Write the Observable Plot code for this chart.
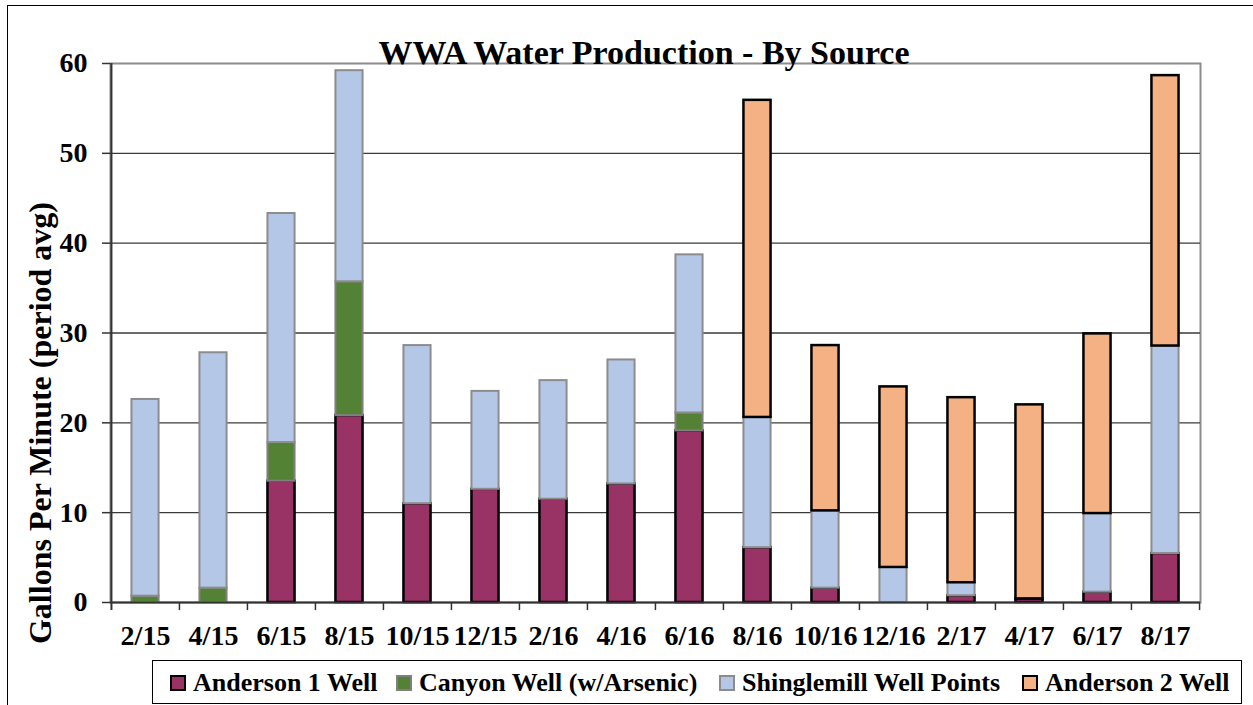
<!DOCTYPE html>
<html>
<head>
<meta charset="utf-8">
<script src="https://cdn.jsdelivr.net/npm/d3@7"></script>
<script src="https://cdn.jsdelivr.net/npm/@observablehq/plot@0.6"></script>
<style>
  body { margin: 0; background: #fff; }
  #wrap { position: relative; width: 1253px; height: 705px; overflow: hidden;
          font-weight: bold; color: #000; background: #fff; }
  #outer { position: absolute; left: 7px; top: 5px; width: 1270px; height: 730px; border: 1px solid #000; box-sizing: border-box; }
  #chart { position: absolute; left: 0; top: 0; }
  #title { position: absolute; left: 0; width: 1288px; top: 36px; text-align: center; font-size: 34px; line-height: 34px; white-space: nowrap; }
  #ylabel { position: absolute; left: 40px; top: 423px; font-size: 32px; line-height: 32px; white-space: nowrap;
            transform: translate(-50%, -50%) rotate(-90deg); }
  #legend { position: absolute; left: 152px; top: 660px; width: 1090px; height: 44px; border: 1px solid #000; box-sizing: border-box; }
  .item { position: absolute; top: 0; height: 42px; }
  .sw { position: absolute; top: 14px; width: 16px; height: 16px; box-sizing: border-box; border: 2px solid #000; }
  .lt { position: absolute; left: 23px; top: 9px; font-size: 26px; line-height: 26px; white-space: nowrap; }
</style>
</head>
<body>
<div id="wrap">
  <div id="outer"></div>
  <div id="chart"></div>
  <div id="title">WWA Water Production - By Source</div>
  <div id="ylabel">Gallons Per Minute (period avg)</div>
  <div id="legend"></div>
</div>
<script>
// ---- data ----
const periods = ["2/15","4/15","6/15","8/15","10/15","12/15","2/16","4/16","6/16","8/16","10/16","12/16","2/17","4/17","6/17","8/17"];
const sources = ["Anderson 1 Well", "Canyon Well (w/Arsenic)", "Shinglemill Well Points", "Anderson 2 Well"];
const anderson1  = [0, 0, 13.5, 20.8, 11.0, 12.6, 11.5, 13.2, 19.1, 6.1, 1.6, 0, 0.75, 0.4, 1.15, 5.45];
const canyon     = [0.7, 1.6, 4.3, 14.9, 0, 0, 0, 0, 2.0, 0, 0, 0, 0, 0, 0, 0];
const shinglemill= [21.9, 26.2, 25.5, 23.5, 17.6, 10.9, 13.2, 13.8, 17.6, 14.5, 8.6, 3.9, 1.45, 0, 8.75, 23.1];
const anderson2  = [0, 0, 0, 0, 0, 0, 0, 0, 0, 35.3, 18.4, 20.1, 20.6, 21.6, 20.0, 30.1];
const yTicks = [0, 10, 20, 30, 40, 50, 60];

// ---- pick an installed Times-like serif font ----
function pickFont(cands) {
  const c = document.createElement("canvas").getContext("2d");
  const sample = "WWA Water Production - By Source 0123456789";
  c.font = "bold 40px monospace";
  const base = c.measureText(sample).width;
  for (const f of cands) {
    c.font = `bold 40px "${f}", monospace`;
    if (Math.abs(c.measureText(sample).width - base) > 0.5) return f;
  }
  return "serif";
}
const serifFont = pickFont(["Liberation Serif", "Tinos", "Times New Roman", "Times", "Nimbus Roman", "DejaVu Serif", "Noto Serif"]);
const fontStack = `"${serifFont}", "Liberation Serif", "Times New Roman", serif`;
document.getElementById("wrap").style.fontFamily = fontStack;

// ---- styling ----
const fills   = {"Anderson 1 Well": "#993366", "Canyon Well (w/Arsenic)": "#548235", "Shinglemill Well Points": "#B4C7E7", "Anderson 2 Well": "#F4B183"};
const strokes = {"Anderson 1 Well": "#000000", "Canyon Well (w/Arsenic)": "#808080", "Shinglemill Well Points": "#8C8C8C", "Anderson 2 Well": "#000000"};
const widths  = {"Anderson 1 Well": 2.5, "Canyon Well (w/Arsenic)": 2, "Shinglemill Well Points": 2, "Anderson 2 Well": 2.5};

const seriesValues = [anderson1, canyon, shinglemill, anderson2];
const rows = [];
sources.forEach((s, si) => periods.forEach((p, pi) => {
  const v = seriesValues[si][pi];
  if (v > 0) rows.push({period: p, source: s, value: v});
}));

const W = 1253, H = 705, mL = 110, mR = 53, mT = 63, mB = 103;
const bw = (W - mL - mR) / periods.length;
const inset = bw * 0.3;

const chart = Plot.plot({
  width: W, height: H,
  marginLeft: mL, marginRight: mR, marginTop: mT, marginBottom: mB,
  style: {fontFamily: fontStack, fontWeight: "bold", color: "#000", background: "transparent"},
  x: {type: "band", domain: periods, paddingInner: 0, paddingOuter: 0, label: null},
  y: {domain: [0, 60], label: null},
  marks: [
    Plot.frame({stroke: "#8C8C8C", strokeWidth: 2}),
    Plot.ruleY(yTicks.filter(t => t > 0 && t < 60), {stroke: "#3a3a3a", strokeWidth: 1.3}),
    Plot.barY(rows, {
      x: "period", y: "value", z: "source", order: sources,
      fill: d => fills[d.source], stroke: d => strokes[d.source], strokeWidth: d => widths[d.source],
      insetLeft: inset, insetRight: inset
    }),
    Plot.ruleY([0], {stroke: "#333", strokeWidth: 2}),
    Plot.ruleX([periods[0]], {dx: -bw / 2, y1: -0.9, y2: 60, stroke: "#333", strokeWidth: 2}),
    Plot.ruleX(periods.slice(1), {x: d => d, dx: -bw / 2, y1: 0, y2: -0.9, stroke: "#333", strokeWidth: 1.5}),
    Plot.ruleX([periods[periods.length - 1]], {dx: bw / 2, y1: 0, y2: -0.9, stroke: "#333", strokeWidth: 1.5}),
    Plot.axisY({ticks: yTicks, tickSize: 8, tickPadding: 15, fontSize: 28, fontWeight: "bold", stroke: "#333", strokeWidth: 1.5, label: null}),
    Plot.axisX({tickSize: 0, tickPadding: 23, fontSize: 28, fontWeight: "bold", label: null})
  ]
});
document.getElementById("chart").appendChild(chart);

// ---- legend ----
const legend = document.getElementById("legend");
const itemX = [17, 243, 566, 869];
sources.forEach((s, i) => {
  const it = document.createElement("div");
  it.className = "item";
  it.style.left = itemX[i] + "px";
  const sw = document.createElement("div");
  sw.className = "sw";
  sw.style.background = fills[s];
  sw.style.borderColor = strokes[s];
  const lt = document.createElement("div");
  lt.className = "lt";
  lt.textContent = s;
  it.appendChild(sw); it.appendChild(lt);
  legend.appendChild(it);
});
</script>
</body>
</html>
